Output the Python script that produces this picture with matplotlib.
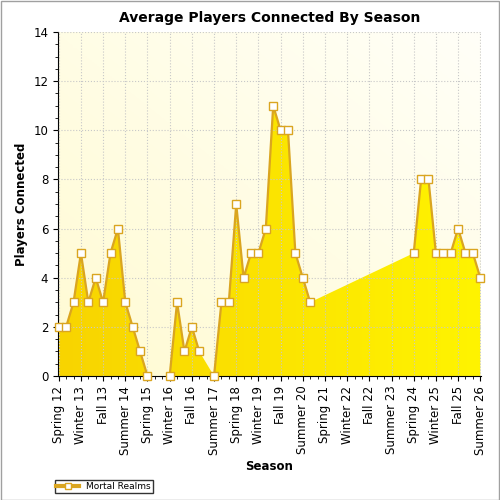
import numpy as np
import matplotlib
matplotlib.use("Agg")
import matplotlib.pyplot as plt
from matplotlib.ticker import MultipleLocator
from matplotlib.lines import Line2D
from matplotlib.patches import Rectangle

seasons = ["Spring", "Summer", "Fall", "Winter"]
# Spring 12 .. Summer 26, one entry per season
categories = []
year = 12
for i in range(58):
    s = seasons[i % 4]
    if s == "Winter":
        year += 1
    categories.append(f"{s} {year}")

nan = np.nan
players = [2, 2, 3, 5, 3, 4, 3, 5, 6, 3, 2, 1, 0, nan, nan,
           0, 3, 1, 2, 1, nan, 0, 3, 3, 7, 4, 5, 5, 6, 11,
           10, 10, 5, 4, 3, nan, nan, nan, nan, nan, nan, nan, nan, nan, nan,
           nan, nan, nan, 5, 8, 8, 5, 5, 5, 6, 5, 5, 4]

y = np.array(players, dtype=float)
x = np.arange(len(y))
valid = ~np.isnan(y)
y_fill = np.interp(x, x[valid], y[valid])

fig = plt.figure(figsize=(5, 5), dpi=100)
fig.patches.append(Rectangle((0.001, 0.001), 0.997, 0.997, transform=fig.transFigure,
                             fill=False, edgecolor="#a0a0a0", lw=1))
ax = fig.add_axes([0.116, 0.248, 0.846, 0.688])

# light background gradient (yellowish top-left, white bottom-right)
bg = np.linspace(0, 1, 256)
bgimg = np.add.outer(bg, bg[::-1]) / 2
ax.imshow(bgimg, extent=[-0.5, len(y) - 0.5, 0, 14], aspect="auto",
          cmap=matplotlib.colors.LinearSegmentedColormap.from_list("bg", ["#fffff8", "#fffbd2"]),
          zorder=0, origin="upper")

# gold-to-yellow fill gradient clipped to the area
poly = ax.fill_between(x, y_fill, 0, color="none", zorder=2)
grad = np.linspace(0, 1, 256).reshape(1, -1)
im = ax.imshow(grad, extent=[0, len(y) - 1, 0, 14], aspect="auto",
               cmap=matplotlib.colors.LinearSegmentedColormap.from_list("fill", ["#f8d400", "#fff400"]),
               zorder=2)
im.set_clip_path(poly.get_paths()[0], transform=ax.transData)

ax.plot(x, y, color="#daa520", lw=1.6, marker="s", ms=5.5, mfc="white", mec="#daa520",
        mew=1, zorder=3, clip_on=False)

ax.set_xlim(-0.1, len(y) - 0.9)
ax.set_ylim(0, 14)
ax.yaxis.set_major_locator(MultipleLocator(2))
ax.yaxis.set_minor_locator(MultipleLocator(0.5))
ax.set_xticks(x[::3])
ax.set_xticklabels(categories[::3], rotation=90, fontsize=8.5)
ax.set_xticks(x, minor=True)
ax.tick_params(axis="y", labelsize=8.5)
ax.grid(True, which="major", color="#c8c8c8", ls=":", lw=0.8, zorder=1)
ax.set_axisbelow(False)
for sp in ["top", "right"]:
    ax.spines[sp].set_visible(False)

ax.set_title("Average Players Connected By Season", fontsize=10, fontweight="bold", pad=7)
ax.set_xlabel("Season", fontsize=8.5, fontweight="bold")
ax.set_ylabel("Players Connected", fontsize=8.5, fontweight="bold")

handle = Line2D([], [], color="#daa520", lw=3, marker="s", ms=5, mfc="white", mec="#daa520")
fig.legend([handle], ["Mortal Realms"], loc="lower left", bbox_to_anchor=(0.1, 0.005),
           fontsize=6.5, frameon=True, fancybox=False, edgecolor="black", borderpad=0.2,
           handlelength=2.5)

fig.savefig("out.png", dpi=100)
